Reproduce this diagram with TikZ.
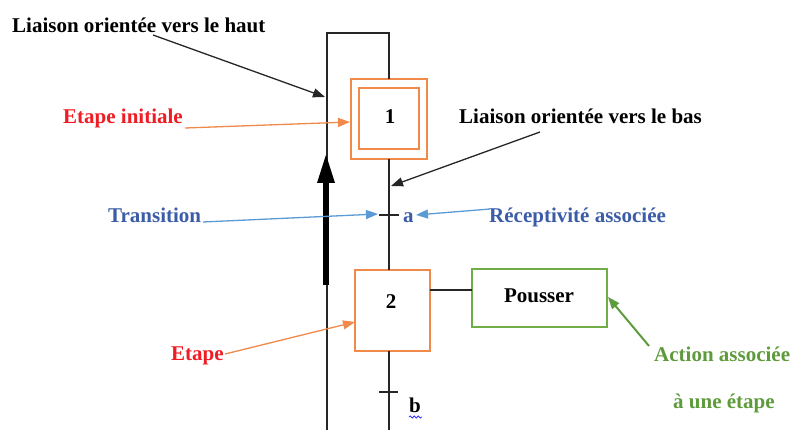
\documentclass[tikz,border=0pt]{standalone}
\usepackage{fontspec}
\setmainfont{Liberation Serif}
\usetikzlibrary{arrows.meta,decorations.pathmorphing}
\definecolor{gred}{HTML}{F01C24}
\definecolor{gorange}{HTML}{F0894A}
\definecolor{ggreen}{HTML}{70AD47}
\definecolor{gtgreen}{HTML}{5E9B3C}
\definecolor{gblue}{HTML}{3B5CA6}
\definecolor{glblue}{HTML}{5B9BD5}
\tikzset{
  lbl/.style={inner sep=0pt, font=\fontsize{21}{24}\selectfont\bfseries, anchor=base west},
  lblc/.style={inner sep=0pt, font=\fontsize{21}{24}\selectfont\bfseries, anchor=base},
  wire/.style={draw=black!85, line width=1.2pt},
  stepbox/.style={draw=gorange, line width=1.5pt},
  actbox/.style={draw=ggreen, line width=1.4pt},
  pointer/.style={line width=1.3pt, -{Triangle[length=12pt,width=9pt]}},
}
\begin{document}
\begin{tikzpicture}[x=1pt,y=-1pt]
\useasboundingbox (0,0) rectangle (792,430);
% step 1
\draw[stepbox] (351,79) rectangle (427,159);
\draw[stepbox] (359,88) rectangle (419,149);
\node[lblc] (n1) at (390,124) {1};
% step 2
\draw[stepbox] (355,270) rectangle (430,351);
\node[lblc] (n2) at (391,308) {2};
% action
\draw[actbox] (472,269) rectangle (607,327);
\node[lblc] (pous) at (539,302) {Pousser};
% named coordinates
\coordinate (s1top) at (389,79);
\coordinate (s1bot) at (389,159);
\coordinate (s2top) at (389,270);
\coordinate (s2bot) at (389,351);
\coordinate (s2r) at (430,290);
\coordinate (actl) at (472,290);
\coordinate (botr) at (389,430);
\coordinate (botl) at (327,430);
\coordinate (tl) at (327,33);
\coordinate (tr) at (389,33);
% links
\draw[wire] (botl) -- (tl) -- (tr) -- (s1top);
\draw[wire] (s1bot) -- (s2top);
\draw[wire] (s2bot) -- (botr);
\draw[wire] (s2r) -- (actl);
% transitions
\coordinate (ta1) at (379,215); \coordinate (ta2) at (399,215);
\coordinate (tb1) at (379,392); \coordinate (tb2) at (398,392);
\draw[wire] (ta1) -- (ta2);
\draw[wire] (tb1) -- (tb2);
\node[lbl, text=gblue] (ra) at (403,223) {a};
\node[lbl] (rb) at (409,412) {b};
\draw[blue!80, line width=0.8pt, decorate, decoration={snake, amplitude=1pt, segment length=4pt}] (409,417) -- (422,417);
% thick upward arrow
\coordinate (thb) at (326,285);
\coordinate (tht) at (326,153);
\draw[line width=6pt, -{Triangle[length=30pt,width=16pt]}] (thb) -- (tht);
% labels
\node[lbl] (lh) at (12,33) {Liaison orientée vers le haut};
\node[lbl, text=gred] (ei) at (63,124) {Etape initiale};
\node[lbl] (lb) at (459,124) {Liaison orientée vers le bas};
\node[lbl, text=gblue] (tr1) at (108,223) {Transition};
\node[lbl, text=gblue] (rc) at (489,223) {Réceptivité associée};
\node[lbl, text=gred] (et) at (171,360) {Etape};
\node[lbl, text=gtgreen] (aa) at (654,361) {Action associée};
\node[lbl, text=gtgreen] (ae) at (673,408) {à une étape};
% pointers
\coordinate (p1s) at (153,35); \coordinate (p1e) at (325,97);
\draw[pointer, black!85] (p1s) -- (p1e);
\coordinate (p2s) at (185,128); \coordinate (p2e) at (350,122);
\draw[pointer, gorange] (p2s) -- (p2e);
\coordinate (p3s) at (540,132); \coordinate (p3e) at (391,186);
\draw[pointer, black!85] (p3s) -- (p3e);
\coordinate (p4s) at (203,222); \coordinate (p4e) at (378,214);
\draw[pointer, glblue] (p4s) -- (p4e);
\coordinate (p5s) at (490,209); \coordinate (p5e) at (416,215);
\draw[pointer, glblue] (p5s) -- (p5e);
\coordinate (p6s) at (225,354); \coordinate (p6e) at (355,322);
\draw[pointer, gorange] (p6s) -- (p6e);
\coordinate (p7s) at (649,346); \coordinate (p7e) at (608,297);
\draw[pointer, gtgreen, line width=2pt] (p7s) -- (p7e);
\end{tikzpicture}
\end{document}
